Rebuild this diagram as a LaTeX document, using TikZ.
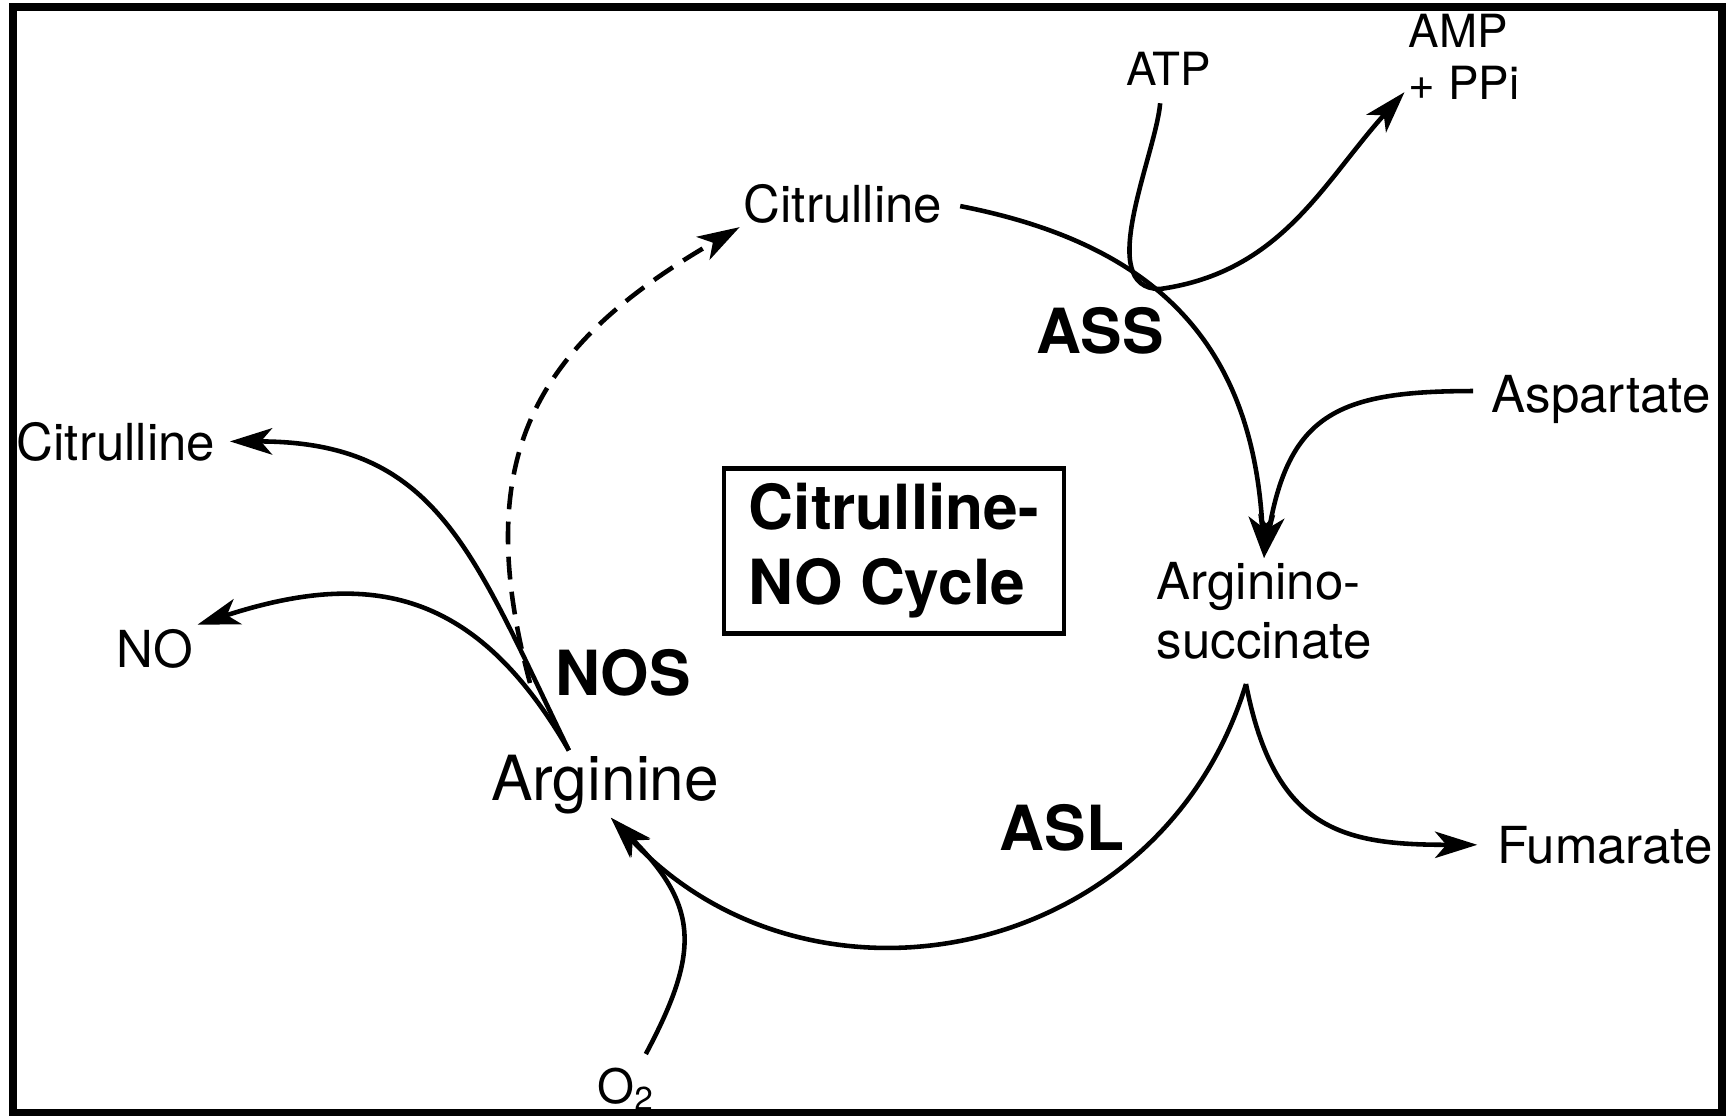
\documentclass[tikz,border=0pt]{standalone}
\usepackage{fontspec}
\setmainfont{TeX Gyre Heros}
\usetikzlibrary{arrows.meta}

\begin{document}
\begin{tikzpicture}[
  x=0.01cm, y=-0.01cm,
  lbl/.style={inner sep=1pt,anchor=base,font={\fontsize{14.5}{16.8}\selectfont}},
  lblsm/.style={lbl,font={\fontsize{13}{14.8}\selectfont}},
  lblbig/.style={lbl,font={\fontsize{17.7}{21}\selectfont}},
  enz/.style={lbl,font={\fontsize{17.7}{21}\selectfont\bfseries}},
  cyclebox/.style={draw,line width=1.2pt,align=left,minimum width=3.4cm,minimum height=1.65cm,font={\fontsize{17.7}{21.3}\selectfont\bfseries}},
  rxn/.style={-{Stealth[length=12pt,width=7.5pt,inset=3.2pt]},line width=1.3pt},
  rxndash/.style={rxn,dash pattern=on 6.5pt off 3.5pt}
]
  \useasboundingbox (0,0) rectangle (1729,1117);
  \fill[white] (0,0) rectangle (1729,1117);

  \node[lbl] (cit) at (843,222) {Citrulline};
  \node[lblsm] (atp) at (1169,85) {ATP};
  \node[lblsm,anchor=north west,align=left] (amp) at (1404.5,9.5) {AMP\\+ PPi};
  \node[enz] (ass) at (1100,353) {ASS};
  \node[lbl] (asp) at (1601,412) {Aspartate};
  \node[lbl,anchor=north west,align=left] (asa) at (1152.5,558) {Arginino-\\succinate};
  \node[lbl] (fum) at (1605,863) {Fumarate};
  \node[enz] (asl) at (1062,850) {ASL};
  \node[lblbig] (arg) at (605,800) {Arginine};
  \node[enz] (nos) at (623,695) {NOS};
  \node[lbl] (no) at (155,667) {NO};
  \node[lbl] (cit2) at (116,460) {Citrulline};
  \node[lbl,font={\fontsize{13.5}{15}\selectfont}] (otwo) at (626,1103) {O\textsubscript{2}};
  \node[cyclebox] (cyc) at (894,551) {Citrulline-\\NO Cycle};

  \coordinate (asab) at (1246,684);
  \coordinate (nosj) at (530,683);
  \coordinate (assj) at (1160,289);

  % cycle
  \draw[rxn,shorten <=4pt] (cit.east) to[out=-11,in=93,looseness=1.15] (asa.north);
  \draw[rxn] (asab) to[out=-107,in=-47,looseness=1.15] (arg.-80);
  \draw[rxndash] (nosj) to[out=105,in=210,looseness=1.2] (cit.south west);

  % side reactions
  \draw[rxn,shorten <=4pt] (atp.-110) to[out=-95,in=180,looseness=0.85] (assj) to[out=8,in=228] (amp.211);
  \draw[rxn,shorten <=4pt] (asp.176) to[out=180,in=80,looseness=1.35] (asa.north);
  \draw[rxn,shorten >=4.5pt] (asab) to[out=-79,in=180,looseness=1.3] (fum.west);
  \draw[rxn,shorten <=3pt] (otwo.60) to[out=62,in=-45,looseness=1.3] (arg.-80);
  \draw[rxn,shorten >=3pt] (arg.137) to[out=116,in=0,looseness=1.2] (cit2.east);
  \draw[rxn] (arg.137) to[out=120,in=18,looseness=1.2] (no.north east);

  \draw[line width=2pt] (13,7) rectangle (1722,1112);
\end{tikzpicture}
\end{document}
